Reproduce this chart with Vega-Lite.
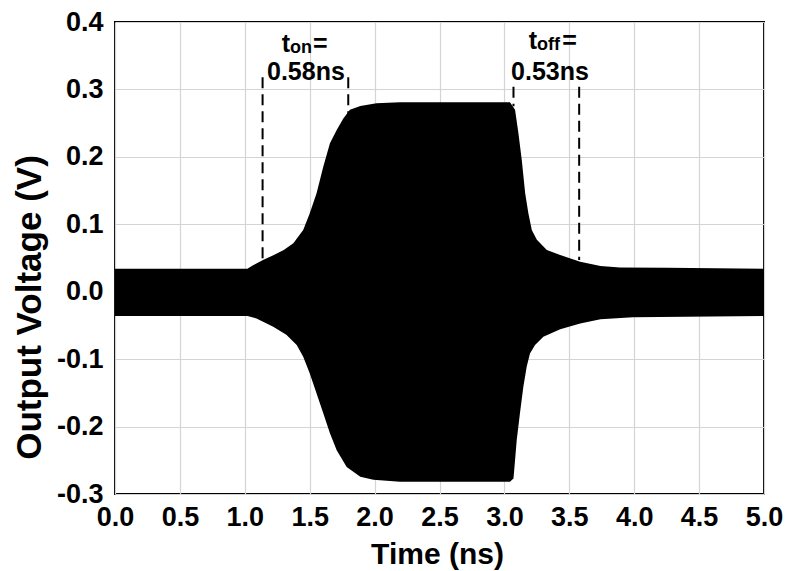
{
  "$schema": "https://vega.github.io/schema/vega-lite/v6.json",
  "width": 649,
  "height": 472,
  "autosize": "none",
  "padding": {"left": 115, "top": 22, "right": 23, "bottom": 77},
  "background": "white",
  "config": {
    "view": {"stroke": "black", "strokeWidth": 2},
    "font": "Liberation Sans",
    "axis": {
      "labelFont": "Liberation Sans",
      "labelFontWeight": "bold",
      "labelFontSize": 27,
      "labelColor": "black",
      "labelFlush": false,
      "labelOverlap": false,
      "labelBound": false,
      "titleFont": "Liberation Sans",
      "titleFontWeight": "bold",
      "titleColor": "black",
      "gridColor": "#d4d4d4",
      "gridWidth": 1.2,
      "ticks": false,
      "domain": false,
      "zindex": 0
    }
  },
  "datasets": {
    "env": [
      {"edge": "upper", "t": 0, "v": 0.034},
      {"edge": "upper", "t": 1.02, "v": 0.034},
      {"edge": "upper", "t": 1.06, "v": 0.039},
      {"edge": "upper", "t": 1.14, "v": 0.047},
      {"edge": "upper", "t": 1.22, "v": 0.054},
      {"edge": "upper", "t": 1.3, "v": 0.062},
      {"edge": "upper", "t": 1.374, "v": 0.072},
      {"edge": "upper", "t": 1.45, "v": 0.0915},
      {"edge": "upper", "t": 1.5, "v": 0.116},
      {"edge": "upper", "t": 1.553, "v": 0.146},
      {"edge": "upper", "t": 1.604, "v": 0.185},
      {"edge": "upper", "t": 1.656, "v": 0.22},
      {"edge": "upper", "t": 1.708, "v": 0.24},
      {"edge": "upper", "t": 1.759, "v": 0.257},
      {"edge": "upper", "t": 1.81, "v": 0.27},
      {"edge": "upper", "t": 1.89, "v": 0.2755},
      {"edge": "upper", "t": 2.015, "v": 0.2795},
      {"edge": "upper", "t": 2.196, "v": 0.281},
      {"edge": "upper", "t": 3.043, "v": 0.281},
      {"edge": "upper", "t": 3.082, "v": 0.27},
      {"edge": "upper", "t": 3.108, "v": 0.235},
      {"edge": "upper", "t": 3.134, "v": 0.195},
      {"edge": "upper", "t": 3.16, "v": 0.146},
      {"edge": "upper", "t": 3.185, "v": 0.116},
      {"edge": "upper", "t": 3.211, "v": 0.0915},
      {"edge": "upper", "t": 3.25, "v": 0.077},
      {"edge": "upper", "t": 3.327, "v": 0.062},
      {"edge": "upper", "t": 3.43, "v": 0.0545},
      {"edge": "upper", "t": 3.584, "v": 0.0445},
      {"edge": "upper", "t": 3.74, "v": 0.038},
      {"edge": "upper", "t": 3.89, "v": 0.036},
      {"edge": "upper", "t": 4.25, "v": 0.0355},
      {"edge": "upper", "t": 5.0, "v": 0.034},
      {"edge": "lower", "t": 0, "v": -0.036},
      {"edge": "lower", "t": 1.02, "v": -0.036},
      {"edge": "lower", "t": 1.09, "v": -0.0396},
      {"edge": "lower", "t": 1.219, "v": -0.052},
      {"edge": "lower", "t": 1.32, "v": -0.064},
      {"edge": "lower", "t": 1.4, "v": -0.079},
      {"edge": "lower", "t": 1.45, "v": -0.0965},
      {"edge": "lower", "t": 1.5, "v": -0.121},
      {"edge": "lower", "t": 1.553, "v": -0.151},
      {"edge": "lower", "t": 1.604, "v": -0.18},
      {"edge": "lower", "t": 1.656, "v": -0.21},
      {"edge": "lower", "t": 1.708, "v": -0.235},
      {"edge": "lower", "t": 1.785, "v": -0.26},
      {"edge": "lower", "t": 1.89, "v": -0.2745},
      {"edge": "lower", "t": 1.99, "v": -0.279},
      {"edge": "lower", "t": 2.196, "v": -0.282},
      {"edge": "lower", "t": 3.043, "v": -0.282},
      {"edge": "lower", "t": 3.07, "v": -0.277},
      {"edge": "lower", "t": 3.082, "v": -0.25},
      {"edge": "lower", "t": 3.095, "v": -0.22},
      {"edge": "lower", "t": 3.12, "v": -0.18},
      {"edge": "lower", "t": 3.146, "v": -0.141},
      {"edge": "lower", "t": 3.172, "v": -0.111},
      {"edge": "lower", "t": 3.197, "v": -0.0915},
      {"edge": "lower", "t": 3.236, "v": -0.079},
      {"edge": "lower", "t": 3.3, "v": -0.0668},
      {"edge": "lower", "t": 3.43, "v": -0.0558},
      {"edge": "lower", "t": 3.584, "v": -0.047},
      {"edge": "lower", "t": 3.74, "v": -0.041},
      {"edge": "lower", "t": 3.99, "v": -0.038},
      {"edge": "lower", "t": 5.0, "v": -0.036}
    ],
    "dash": [
      {"t": 1.137, "v1": 0.0445, "v2": 0.318},
      {"t": 1.797, "v1": 0.262, "v2": 0.318},
      {"t": 3.07, "v1": 0.275, "v2": 0.304},
      {"t": 3.576, "v1": 0.047, "v2": 0.304}
    ],
    "notes": [
      {"part": "t", "t": 1.348, "v": 0.356, "text": "t"},
      {"part": "sub", "t": 1.348, "v": 0.356, "text": "on"},
      {"part": "eq", "t": 1.525, "v": 0.356, "text": "="},
      {"part": "val", "t": 1.471, "v": 0.314, "text": "0.58ns"},
      {"part": "t", "t": 3.251, "v": 0.36, "text": "t"},
      {"part": "sub", "t": 3.251, "v": 0.36, "text": "off"},
      {"part": "eq", "t": 3.445, "v": 0.36, "text": "="},
      {"part": "val", "t": 3.351, "v": 0.314, "text": "0.53ns"}
    ]
  },
  "encoding": {
    "x": {
      "field": "t", "type": "quantitative",
      "scale": {"domain": [0, 5], "nice": false, "zero": false},
      "axis": {
        "title": "Time (ns)",
        "titleFontSize": 30,
        "values": [0, 0.5, 1, 1.5, 2, 2.5, 3, 3.5, 4, 4.5, 5],
        "labelExpr": "format(datum.value, '.1f')",
        "labelPadding": 10,
        "titleX": 322,
        "titleY": 69,
        "titleAlign": "center",
        "titleBaseline": "alphabetic"
      }
    }
  },
  "layer": [
    {
      "data": {"name": "env"},
      "transform": [{"filter": "datum.edge === 'upper'"}],
      "mark": {"type": "area", "color": "black", "opacity": 1, "interpolate": "linear"},
      "encoding": {
        "y": {
          "field": "v", "type": "quantitative",
          "scale": {"domain": [-0.3, 0.4], "nice": false, "zero": false},
          "axis": {
            "title": "Output Voltage (V)",
            "titleFontSize": 35,
            "values": [-0.3, -0.2, -0.1, 0, 0.1, 0.2, 0.3, 0.4],
            "labelExpr": "replace(format(datum.value, '.1f'), '\u2212', '-')",
            "labelPadding": 12,
            "titleAngle": -90,
            "titleX": -75,
            "titleY": 285,
            "titleAlign": "center",
            "titleBaseline": "alphabetic"
          }
        },
        "y2": {"datum": -0.006}
      }
    },
    {
      "data": {"name": "env"},
      "transform": [{"filter": "datum.edge === 'lower'"}],
      "mark": {"type": "area", "color": "black", "opacity": 1, "interpolate": "linear"},
      "encoding": {
        "y": {"field": "v", "type": "quantitative"},
        "y2": {"datum": 0.006}
      }
    },
    {
      "data": {"name": "dash"},
      "mark": {"type": "rule", "color": "black", "strokeWidth": 2, "strokeDash": [11, 6]},
      "encoding": {
        "y": {"field": "v2", "type": "quantitative"},
        "y2": {"field": "v1"}
      }
    },
    {
      "data": {"name": "notes"},
      "transform": [{"filter": "datum.part === 't'"}],
      "mark": {"type": "text", "align": "right", "baseline": "alphabetic", "fontSize": 25, "fontWeight": "bold", "color": "black"},
      "encoding": {"y": {"field": "v", "type": "quantitative"}, "text": {"field": "text"}}
    },
    {
      "data": {"name": "notes"},
      "transform": [{"filter": "datum.part === 'sub'"}],
      "mark": {"type": "text", "align": "left", "baseline": "alphabetic", "fontSize": 18, "fontWeight": "bold", "color": "black", "dy": 1},
      "encoding": {"y": {"field": "v", "type": "quantitative"}, "text": {"field": "text"}}
    },
    {
      "data": {"name": "notes"},
      "transform": [{"filter": "datum.part === 'eq'"}],
      "mark": {"type": "text", "align": "left", "baseline": "alphabetic", "fontSize": 25, "fontWeight": "bold", "color": "black"},
      "encoding": {"y": {"field": "v", "type": "quantitative"}, "text": {"field": "text"}}
    },
    {
      "data": {"name": "notes"},
      "transform": [{"filter": "datum.part === 'val'"}],
      "mark": {"type": "text", "align": "center", "baseline": "alphabetic", "fontSize": 25, "fontWeight": "bold", "color": "black"},
      "encoding": {"y": {"field": "v", "type": "quantitative"}, "text": {"field": "text"}}
    }
  ]
}
